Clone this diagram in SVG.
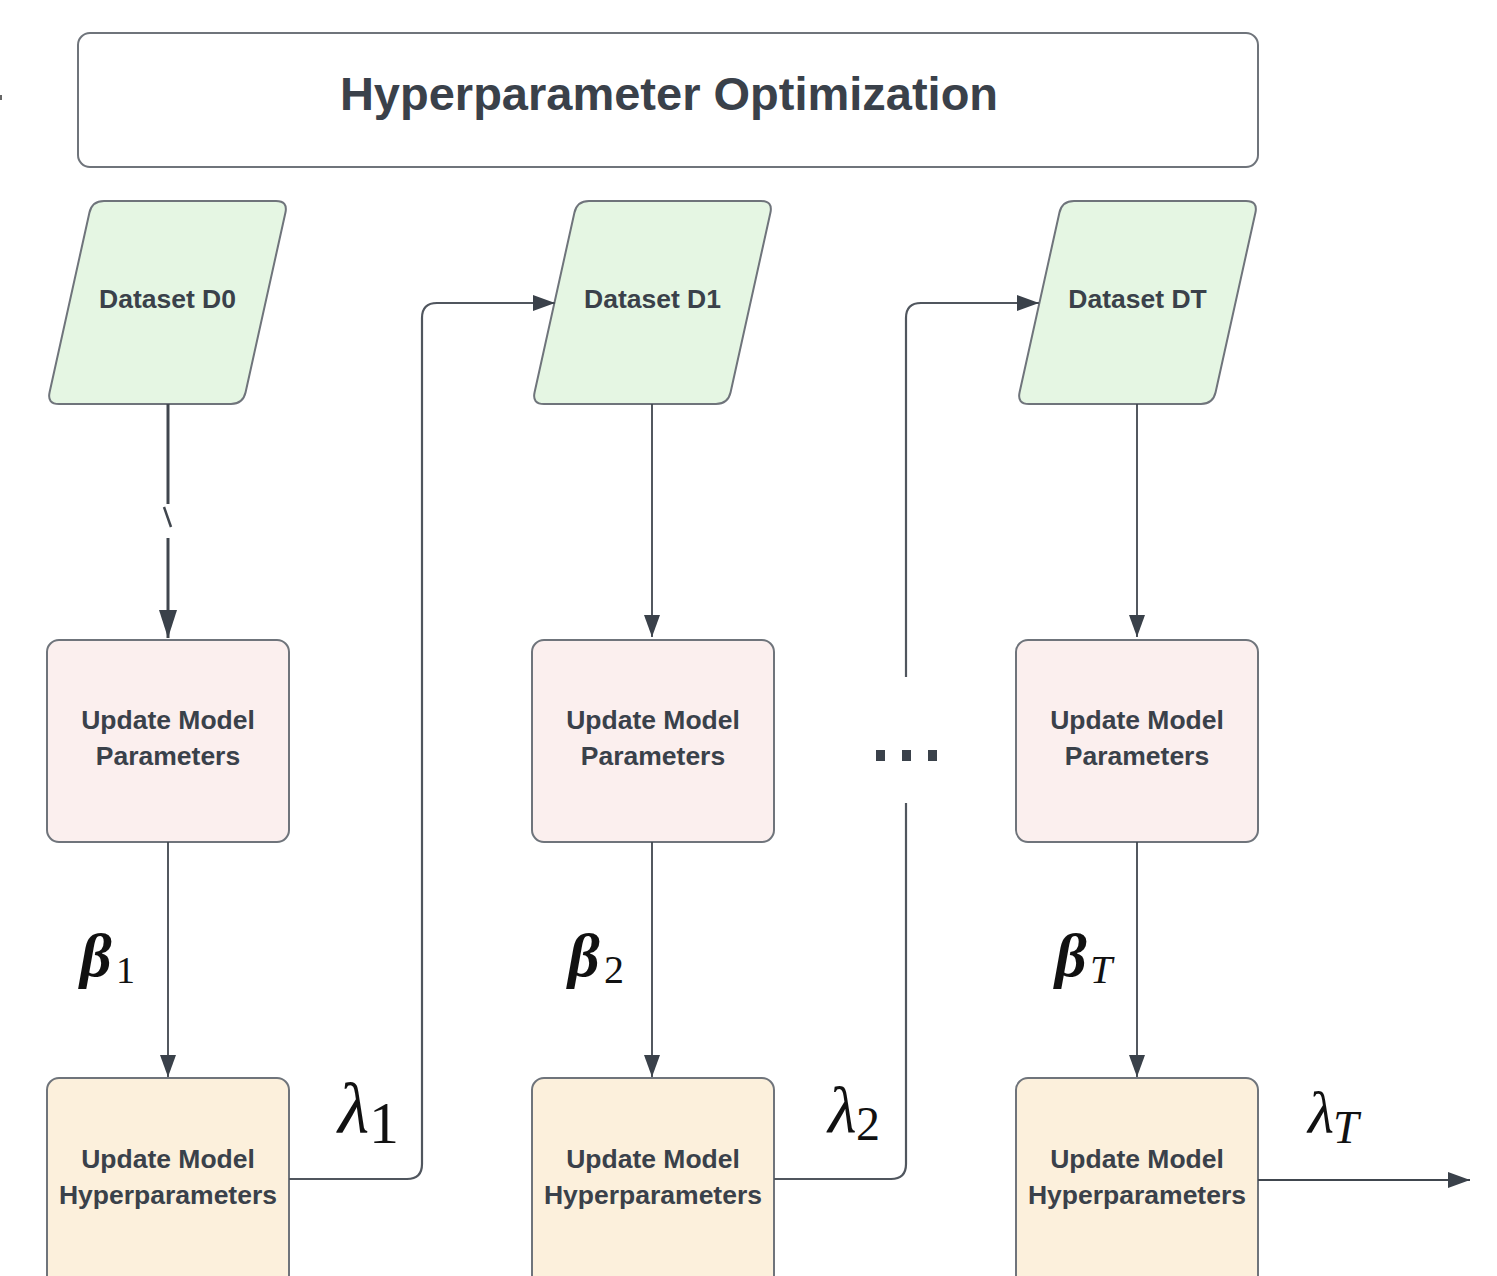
<svg xmlns="http://www.w3.org/2000/svg" width="1497" height="1276" viewBox="0 0 1497 1276">
<style>
  .lbl{font-family:"Liberation Sans",Arial,sans-serif;font-weight:bold;fill:#3a414a;text-anchor:middle}
  .t26{font-size:26.5px}
  .box{stroke:#6f747b;stroke-width:2}
  .green{fill:#e5f6e3}
  .pink{fill:#fbefee}
  .yellow{fill:#fcf0dc}
  .conn{fill:none;stroke:#40464e;stroke-width:1.8}
  .jump{fill:none;stroke:#50565e;stroke-width:2.2}
  .math{font-family:"Liberation Serif","Times New Roman",serif;fill:#111}
  .beta{font-style:italic;font-weight:bold;font-size:62px}
  .lam{font-style:italic;font-size:66px}
</style>
<defs>
  <marker id="arr" markerUnits="userSpaceOnUse" markerWidth="22" markerHeight="16" refX="22" refY="8" orient="auto">
    <path d="M0,0 L22,8 L0,16 Z" fill="#3a414a"/>
  </marker>
  <marker id="arrBig" markerUnits="userSpaceOnUse" markerWidth="28" markerHeight="18" refX="28" refY="9" orient="auto">
    <path d="M0,0 L28,9 L0,18 Z" fill="#3a414a"/>
  </marker>
  <path id="para" d="M57,0 L229,0 Q241,0 238.4,11.7 L198.6,191.3 Q196,203 184,203 L12,203 Q0,203 2.6,191.3 L42.4,11.7 Q45,0 57,0 Z"/>
</defs>
<rect width="1497" height="1276" fill="#ffffff"/>
<rect x="0" y="95" width="2" height="5" fill="#666"/>

<g id="title">
  <rect x="78" y="33" width="1180" height="134" rx="12" fill="#ffffff" class="box"/>
  <text x="669" y="110" class="lbl" style="font-size:47px">Hyperparameter Optimization</text>
</g>

<g id="dataset-d0">
  <use href="#para" transform="translate(47,201)" class="box green"/>
  <text x="167.5" y="308" class="lbl t26">Dataset D0</text>
</g>
<g id="dataset-d1">
  <use href="#para" transform="translate(532,201)" class="box green"/>
  <text x="652.5" y="308" class="lbl t26">Dataset D1</text>
</g>
<g id="dataset-dt">
  <use href="#para" transform="translate(1017,201)" class="box green"/>
  <text x="1137.5" y="308" class="lbl t26">Dataset DT</text>
</g>

<g id="params-1">
  <rect x="47" y="640" width="242" height="202" rx="12" class="box pink"/>
  <text class="lbl t26"><tspan x="168" y="729">Update Model</tspan><tspan x="168" y="765">Parameters</tspan></text>
</g>
<g id="params-2">
  <rect x="532" y="640" width="242" height="202" rx="12" class="box pink"/>
  <text class="lbl t26"><tspan x="653" y="729">Update Model</tspan><tspan x="653" y="765">Parameters</tspan></text>
</g>
<g id="params-t">
  <rect x="1016" y="640" width="242" height="202" rx="12" class="box pink"/>
  <text class="lbl t26"><tspan x="1137" y="729">Update Model</tspan><tspan x="1137" y="765">Parameters</tspan></text>
</g>

<g id="hyper-1">
  <rect x="47" y="1078" width="242" height="210" rx="12" class="box yellow"/>
  <text class="lbl t26"><tspan x="168" y="1168">Update Model</tspan><tspan x="168" y="1204">Hyperparameters</tspan></text>
</g>
<g id="hyper-2">
  <rect x="532" y="1078" width="242" height="210" rx="12" class="box yellow"/>
  <text class="lbl t26"><tspan x="653" y="1168">Update Model</tspan><tspan x="653" y="1204">Hyperparameters</tspan></text>
</g>
<g id="hyper-t">
  <rect x="1016" y="1078" width="242" height="210" rx="12" class="box yellow"/>
  <text class="lbl t26"><tspan x="1137" y="1168">Update Model</tspan><tspan x="1137" y="1204">Hyperparameters</tspan></text>
</g>

<g id="connectors">
  <path d="M168,404 L168,504" class="conn" style="stroke-width:3"/>
  <path d="M164,507 L171,527" class="conn" style="stroke-width:2.5"/>
  <path d="M168,538 L168,638" class="conn" style="stroke-width:3" marker-end="url(#arrBig)"/>
  <path d="M168,842 L168,1077" class="conn" marker-end="url(#arr)"/>
  <path d="M652,404 L652,637" class="conn" marker-end="url(#arr)"/>
  <path d="M652,842 L652,1077" class="conn" marker-end="url(#arr)"/>
  <path d="M1137,404 L1137,637" class="conn" marker-end="url(#arr)"/>
  <path d="M1137,842 L1137,1077" class="conn" marker-end="url(#arr)"/>
  <path d="M289,1179 L407,1179 Q422,1179 422,1164 L422,318 Q422,303 437,303 L555,303" class="jump" marker-end="url(#arr)"/>
  <path d="M774,1179 L891,1179 Q906,1179 906,1164 L906,803" class="jump"/>
  <path d="M906,677 L906,318 Q906,303 921,303 L1039,303" class="jump" marker-end="url(#arr)"/>
  <path d="M1258,1180 L1470,1180" class="conn" marker-end="url(#arr)"/>
</g>

<g id="ellipsis" fill="#3a414a">
  <rect x="876" y="750" width="9" height="11"/>
  <rect x="902" y="750" width="9" height="11"/>
  <rect x="928" y="750" width="9" height="11"/>
</g>

<g id="labels" class="math">
  <text x="80" y="976" class="beta">β<tspan x="116" y="983" style="font-style:normal;font-weight:normal;font-size:38px">1</tspan></text>
  <text x="568" y="976" class="beta">β<tspan x="604" y="983" style="font-style:normal;font-weight:normal;font-size:40px">2</tspan></text>
  <text x="1055" y="976" class="beta">β<tspan x="1090" y="983" style="font-weight:normal;font-size:40px">T</tspan></text>
  <text x="338" y="1133" class="lam" style="font-size:72px">λ<tspan x="369" y="1143" style="font-style:normal;font-size:60px">1</tspan></text>
  <text x="828" y="1132" class="lam">λ<tspan x="856" y="1140" style="font-style:normal;font-size:48px">2</tspan></text>
  <text x="1308" y="1133" class="lam" style="font-size:60px">λ<tspan x="1333" y="1143" style="font-size:46px">T</tspan></text>
</g>
</svg>
